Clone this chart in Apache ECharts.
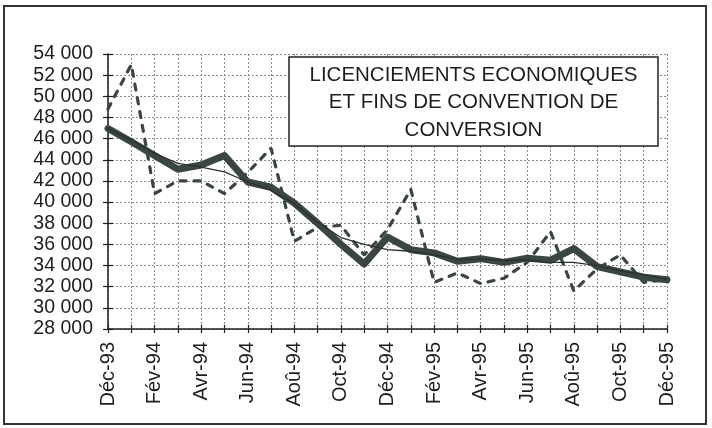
<!DOCTYPE html>
<html>
<head>
<meta charset="utf-8">
<script src="https://cdn.jsdelivr.net/npm/echarts@6/dist/echarts.min.js"></script>
<style>
html,body{margin:0;padding:0;background:#fff;}
#c{width:712px;height:428px;}
</style>
</head>
<body>
<div id="c"></div>
<script>
const months = ['Déc-93','Jan-94','Fév-94','Mar-94','Avr-94','Mai-94','Jun-94','Jul-94','Aoû-94','Sep-94','Oct-94','Nov-94','Déc-94','Jan-95','Fév-95','Mar-95','Avr-95','Mai-95','Jun-95','Jul-95','Aoû-95','Sep-95','Oct-95','Nov-95','Déc-95'];
const brut = [48800,53000,40800,42000,42000,40800,42800,45100,36300,37600,37800,35000,37400,41200,32400,33300,32300,32800,34300,37200,31600,33700,35000,32400,32700];
const cvs = [46950,45700,44400,43100,43500,44400,41900,41400,39900,38000,36000,34150,36700,35500,35200,34400,34650,34300,34700,34500,35600,33900,33400,32900,32650];
const tendance = [46950,45850,44600,43650,43300,42850,41900,41100,39850,38100,36650,36000,35500,35350,35000,34600,34600,34500,34500,34300,34300,34000,33500,33150,32700];
const yMin = 28000, yMax = 54000, yStep = 2000;
const titleLines = ['LICENCIEMENTS ECONOMIQUES','ET FINS DE CONVENTION DE','CONVERSION'];

const FONT = 'Liberation Sans';
const INK = '#1e1e1e';
const LINE = '#3b4641';
const fmt = v => String(v).replace(/\B(?=(\d{3})+(?!\d))/g, ' ');

const chart = echarts.init(document.getElementById('c'), null, {renderer:'canvas'});
const gridLine = {show:true, interval:0, lineStyle:{color:'#8a8a8a', type:[2,2], width:1}};
const titleFont = '20.5px "Liberation Sans"';
const option = {
  backgroundColor:'#ffffff',
  animation:false,
  grid:{left:108, right:45, top:54, bottom:99, containLabel:false},
  xAxis:[{
    type:'category', data:months, boundaryGap:false, position:'bottom',
    axisLine:{show:true, lineStyle:{color:INK, width:1.5}},
    axisTick:{show:true, interval:0, length:4, lineStyle:{color:INK, width:1.2}},
    axisLabel:{interval:1, rotate:90, fontFamily:FONT, fontSize:20, color:INK, margin:13},
    splitLine:gridLine
  },{
    type:'category', data:months, boundaryGap:false, position:'bottom',
    axisLine:{show:false},
    axisTick:{show:true, inside:true, interval:0, length:4, lineStyle:{color:INK, width:1.2}},
    axisLabel:{show:false}, splitLine:{show:false}
  }],
  yAxis:[{
    type:'value', min:yMin, max:yMax, interval:yStep, position:'left',
    axisLine:{show:true, lineStyle:{color:INK, width:1.5}},
    axisTick:{show:true, length:5, lineStyle:{color:INK, width:1.2}},
    axisLabel:{formatter:fmt, fontFamily:FONT, fontSize:19.5, color:INK, margin:15},
    splitLine:{show:true, lineStyle:{color:'#8a8a8a', type:[2,2], width:1}}
  },{
    type:'value', min:yMin, max:yMax, interval:yStep, position:'left',
    axisLine:{show:false},
    axisTick:{show:true, inside:true, length:5, lineStyle:{color:INK, width:1.2}},
    axisLabel:{show:false}, splitLine:{show:false}
  }],
  series:[
    {type:'line', data:brut, symbol:'none', lineStyle:{color:LINE, width:3.2, type:[6,8], cap:'round'}, z:2},
    {type:'line', data:cvs, symbol:'none', lineStyle:{color:LINE, width:7, join:'round', cap:'round'}, z:3},
    {type:'line', data:tendance, symbol:'none', lineStyle:{color:'#2a302d', width:1.3}, z:4}
  ],
  graphic:[
    {type:'rect', z:100, silent:true, shape:{x:4, y:6, width:702, height:418}, style:{fill:null, stroke:'#333', lineWidth:2}},
    {type:'rect', z:100, silent:true, shape:{x:289, y:57, width:369, height:89}, style:{fill:'#fff', stroke:'#222', lineWidth:1.5}},
    {type:'text', z:101, silent:true, x:473.5, y:75, style:{text:titleLines[0], font:titleFont, fill:INK, textAlign:'center', textVerticalAlign:'middle'}},
    {type:'text', z:101, silent:true, x:473.5, y:102.5, style:{text:titleLines[1], font:titleFont, fill:INK, textAlign:'center', textVerticalAlign:'middle'}},
    {type:'text', z:101, silent:true, x:473.5, y:130, style:{text:titleLines[2], font:titleFont, fill:INK, textAlign:'center', textVerticalAlign:'middle'}}
  ]
};
chart.setOption(option);
</script>
</body>
</html>
